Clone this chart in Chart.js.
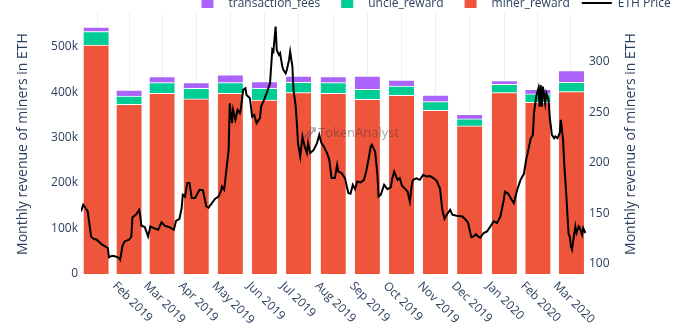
<!DOCTYPE html>
<html>
<head>
<meta charset="utf-8">
<script src="https://cdn.jsdelivr.net/npm/chart.js@4.4.1/dist/chart.umd.min.js"></script>
<style>
  html, body { margin: 0; padding: 0; background: #fff; }
  #wrap { width: 700px; height: 334px; }
</style>
</head>
<body>
<div id="wrap"><canvas id="minerRevenue" width="700" height="334"></canvas></div>
<script>
const months = ['2019-01', '2019-02', '2019-03', '2019-04', '2019-05', '2019-06', '2019-07', '2019-08',
    '2019-09', '2019-10', '2019-11', '2019-12', '2020-01', '2020-02', '2020-03'];

// monthly revenue of miners, in ETH
const minerReward = [503700, 373000, 397500, 385000, 397500, 382700, 398800, 397500,
    384300, 393000, 360000, 325600, 398800, 377700, 401000];
const uncleReward = [29500, 18500, 23300, 23500, 23300, 25800, 22900, 23300,
    22000, 20500, 19000, 15400, 18500, 18300, 20700];
const transactionFees = [9700, 13000, 13200, 12300, 17000, 14500, 13800, 13200,
    29200, 13200, 14700, 10300, 7900, 10300, 25500];

// ETH price in USD; priceDay counts days from 1 Jan 2019
const priceDay = [
    2, 4, 8, 10, 11, 13, 16, 18, 21, 24,
    26, 27, 30, 33, 36, 37, 39, 41, 45, 47,
    48, 51, 54, 55, 56, 59, 62, 64, 67, 71,
    74, 77, 81, 85, 87, 90, 92, 93, 95, 97,
    99, 101, 104, 108, 111, 114, 116, 119, 122, 125,
    127, 128, 130, 132, 134, 135, 137, 138, 140, 142,
    144, 145, 147, 149, 150, 153, 155, 157, 159, 162,
    163, 165, 168, 170, 171, 173, 174, 176, 177, 179,
    180, 182, 183, 185, 186, 188, 189, 191, 192, 194,
    195, 196, 198, 200, 202, 204, 205, 207, 210, 213,
    215, 217, 219, 222, 224, 226, 229, 231, 232, 235,
    238, 241, 243, 245, 247, 249, 252, 255, 257, 259,
    261, 262, 265, 267, 268, 270, 273, 276, 279, 280,
    282, 285, 287, 289, 292, 294, 296, 298, 299, 302,
    305, 308, 311, 314, 317, 320, 323, 325, 327, 329,
    332, 334, 338, 343, 346, 348, 351, 353, 355, 357,
    359, 362, 365, 368, 371, 374, 377, 380, 381, 384,
    387, 389, 392, 395, 398, 400, 402, 404, 406, 407,
    409, 411, 412, 413, 414, 415, 417, 418, 420, 421,
    423, 425, 426, 428, 430, 431, 433, 434, 436, 437,
    438, 439, 440, 441, 442, 444, 445, 447, 448, 450,
    451, 453
];
const ethPrice = [
    151.9, 158.5, 151.9, 135.8, 127.2, 125.0, 124.0, 122.0, 119.1, 117.1,
    115.8, 106.7, 108.2, 107.5, 105.9, 104.2, 117.4, 122.3, 124.0, 127.2,
    146.2, 148.7, 153.6, 147.0, 137.8, 136.5, 127.2, 137.1, 135.5, 133.9,
    141.3, 137.8, 136.5, 133.9, 142.7, 144.7, 155.3, 168.4, 166.4, 180.0,
    180.0, 165.2, 165.2, 173.4, 172.9, 156.9, 155.6, 160.2, 164.5, 166.7,
    171.7, 176.6, 173.3, 193.1, 212.8, 258.9, 239.2, 252.3, 242.5, 252.3,
    249.1, 254.0, 272.1, 273.7, 267.1, 263.9, 245.7, 247.4, 239.2, 244.1,
    255.6, 260.5, 268.8, 275.3, 278.7, 311.6, 309.9, 334.6, 311.6, 306.6,
    308.3, 295.1, 291.8, 288.6, 291.8, 301.7, 309.9, 295.1, 272.1, 255.6,
    239.2, 219.5, 206.2, 226.0, 216.1, 209.6, 219.5, 209.6, 212.8, 219.5,
    227.6, 219.5, 216.1, 209.6, 203.0, 184.9, 184.9, 198.0, 191.4, 189.8,
    184.9, 170.1, 169.4, 178.3, 174.0, 181.5, 180.6, 183.2, 191.4, 203.0,
    216.1, 217.8, 210.9, 188.2, 166.7, 168.4, 178.3, 174.0, 175.8, 183.2,
    191.4, 183.2, 184.9, 177.3, 174.0, 171.7, 161.8, 180.3, 183.2, 184.7,
    183.2, 188.2, 186.5, 186.9, 184.9, 182.2, 174.3, 153.6, 144.7, 148.7,
    153.6, 148.7, 147.7, 147.0, 143.7, 140.8, 126.5, 127.2, 129.4, 127.2,
    126.0, 130.6, 132.2, 137.1, 142.1, 140.5, 147.0, 163.5, 171.4, 169.4,
    163.5, 160.2, 173.4, 183.2, 189.1, 203.0, 212.8, 223.7, 227.6, 249.1,
    265.5, 273.7, 255.6, 277.0, 255.6, 275.3, 258.9, 268.8, 262.2, 245.7,
    227.6, 224.4, 226.0, 224.4, 229.3, 242.5, 222.7, 199.7, 166.7, 147.0,
    128.9, 127.2, 117.4, 114.1, 122.3, 137.1, 130.6, 137.1, 135.5, 128.9,
    135.5, 130.6
];

const revenueTicks = [0, 100000, 200000, 300000, 400000, 500000];
const priceTicks = [100, 150, 200, 250, 300];

const MONTH_NAMES = ['Jan', 'Feb', 'Mar', 'Apr', 'May', 'Jun', 'Jul', 'Aug', 'Sep', 'Oct', 'Nov', 'Dec'];
const DAY = 86400000;
const ORIGIN = Date.UTC(2019, 0, 1);

const dayOf = (y, m) => (Date.UTC(y, m, 1) - ORIGIN) / DAY;
const ym = s => s.split('-').map(Number);
const monthStart = months.map(s => { const [y, m] = ym(s); return dayOf(y, m - 1); });
const monthEnd = months.map(s => { const [y, m] = ym(s); return dayOf(y, m); });
const monthMid = monthStart.map((d, i) => (d + monthEnd[i]) / 2);
const monthLabel = months.map(s => { const [y, m] = ym(s); return MONTH_NAMES[m - 1] + ' ' + y; });

const xMin = priceDay[0];
const xMax = priceDay[priceDay.length - 1] + 0.5;
const xTickIdx = monthStart.map((d, i) => i).filter(i => monthStart[i] >= xMin);

const fontFamily = "'Open Sans', sans-serif";
const textColor = '#2a3f5f';

Chart.defaults.font.family = fontFamily;
Chart.defaults.font.size = 12;
Chart.defaults.color = textColor;

const legendItems = [
    { label: 'transaction_fees', color: '#ab63fa', kind: 'box' },
    { label: 'uncle_reward', color: '#00cc96', kind: 'box' },
    { label: 'miner_reward', color: '#ef553b', kind: 'box' },
    { label: 'ETH Price', color: '#000', kind: 'line' }
];

const barSet = (label, values, color) => ({
    type: 'bar',
    label,
    order: 1,
    yAxisID: 'y',
    data: values.map((v, i) => ({ x: monthMid[i], y: v })),
    backgroundColor: color,
    borderColor: '#fff',
    borderWidth: { top: 1, left: 0, right: 0, bottom: 0 },
    barThickness: 25
});

// legend, axis titles, slanted month labels and the watermark
const overlay = {
    id: 'overlay',
    afterDraw(chart) {
        const { ctx, scales: { x } } = chart;
        ctx.save();
        ctx.fillStyle = textColor;

        ctx.font = `12px ${fontFamily}`;
        ctx.textAlign = 'left';
        ctx.textBaseline = 'middle';
        xTickIdx.forEach(i => {
            const px = x.getPixelForValue(monthStart[i]);
            ctx.save();
            ctx.translate(px + 1, 284);
            ctx.rotate(Math.PI / 4);
            ctx.fillText(monthLabel[i], 0, 0);
            ctx.restore();
        });

        ctx.font = `14px ${fontFamily}`;
        ctx.textAlign = 'center';
        [23, 631].forEach(cx => {
            ctx.save();
            ctx.translate(cx, 144);
            ctx.rotate(-Math.PI / 2);
            ctx.fillText('Monthly revenue of miners in ETH', 0, 0);
            ctx.restore();
        });

        ctx.font = `12px ${fontFamily}`;
        ctx.textAlign = 'left';
        ctx.textBaseline = 'alphabetic';
        let cx = 207.5;
        legendItems.forEach(item => {
            if (item.kind === 'box') {
                ctx.fillStyle = item.color;
                ctx.fillRect(cx - 6, -4, 12, 12);
            } else {
                ctx.strokeStyle = item.color;
                ctx.lineWidth = 2;
                ctx.beginPath();
                ctx.moveTo(cx - 15, 3);
                ctx.lineTo(cx + 15, 3);
                ctx.stroke();
            }
            ctx.fillStyle = textColor;
            ctx.fillText(item.label, cx + 21, 7);
            cx += 21 + ctx.measureText(item.label).width + 27;
        });

        // watermark
        ctx.globalAlpha = 0.45;
        ctx.strokeStyle = '#3c3240';
        ctx.lineWidth = 1.5;
        ctx.beginPath();
        ctx.moveTo(304, 138);
        ctx.lineTo(311, 130);
        ctx.moveTo(308, 138);
        ctx.lineTo(315, 128);
        ctx.moveTo(311, 128);
        ctx.lineTo(315, 128);
        ctx.lineTo(315, 132);
        ctx.stroke();
        ctx.fillStyle = '#3c3240';
        ctx.font = `13px ${fontFamily}`;
        ctx.fillText('TokenAnalyst', 318, 137);
        ctx.restore();
    }
};

new Chart(document.getElementById('minerRevenue'), {
    type: 'bar',
    data: {
        datasets: [
            {
                type: 'line',
                label: 'ETH Price',
                order: 0,
                yAxisID: 'y1',
                data: priceDay.map((d, i) => ({ x: d, y: ethPrice[i] })),
                borderColor: '#000',
                borderWidth: 2,
                pointRadius: 0,
                tension: 0,
                fill: false
            },
            barSet('miner_reward', minerReward, '#ef553b'),
            barSet('uncle_reward', uncleReward, '#00cc96'),
            barSet('transaction_fees', transactionFees, '#ab63fa')
        ]
    },
    options: {
        responsive: false,
        animation: false,
        devicePixelRatio: 1,
        layout: { padding: { left: 0, right: 0, top: 13, bottom: 0 } },
        plugins: {
            legend: { display: false },
            tooltip: { enabled: false }
        },
        scales: {
            x: {
                type: 'linear',
                stacked: true,
                offset: false,
                min: xMin,
                max: xMax,
                border: { display: false },
                grid: { color: '#ebf0f8', drawTicks: false },
                ticks: { display: false },
                afterBuildTicks: s => { s.ticks = xTickIdx.map(i => ({ value: monthStart[i] })); },
                afterFit: s => { s.height = 60; }
            },
            y: {
                position: 'left',
                stacked: true,
                min: 0,
                max: 574000,
                border: { display: false },
                grid: { display: false, drawTicks: false },
                ticks: {
                    padding: 3,
                    callback: v => v === 0 ? '0' : (v / 1000) + 'k'
                },
                afterBuildTicks: s => { s.ticks = revenueTicks.map(v => ({ value: v })); },
                afterFit: s => { s.width = 81; }
            },
            y1: {
                position: 'right',
                min: 90.1,
                max: 348.1,
                border: { display: false },
                grid: { display: false, drawTicks: false },
                ticks: { padding: 3 },
                afterBuildTicks: s => { s.ticks = priceTicks.map(v => ({ value: v })); },
                afterFit: s => { s.width = 114; }
            }
        }
    },
    plugins: [overlay]
});
</script>
</body>
</html>
